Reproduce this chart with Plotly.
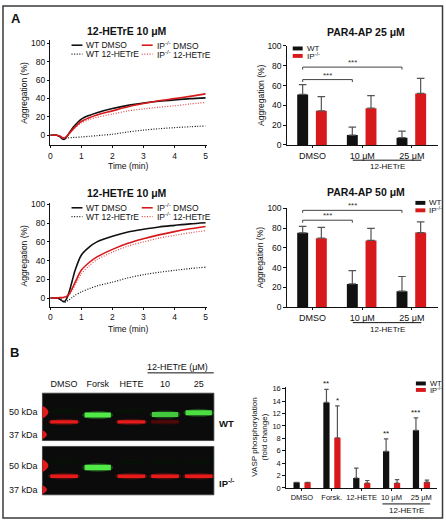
import plotly.graph_objects as go

W, H = 446, 526
def px(x): return x / W
def py(y): return 1 - y / H

# ---------------- data ----------------
time_min = [0, 0.2, 0.3, 0.4, 0.45, 0.5, 0.6, 0.7, 0.8, 1.0, 1.25, 1.5, 2.0, 2.5, 3.0, 3.5, 4.0, 4.5, 5.0]

agg_top_wt_dmso  = [0, 0, -1.5, -4.3, -4.5, -3.0, 2.0, 7.0, 11.0, 17.5, 21.5, 24.5, 29.0, 32.5, 35.0, 37.0, 38.5, 39.8, 40.7]
agg_top_ip_dmso  = [0, 0, -1.0, -3.0, -3.0, -2.0, 1.5, 5.5, 9.0, 15.0, 19.0, 22.0, 26.5, 31.0, 34.5, 37.5, 39.8, 42.3, 45.0]
agg_top_wt_hetre = [0, 0, -1.5, -2.5, -3.0, -3.0, -2.8, -2.6, -2.4, -2.0, -1.2, -0.5, 1.0, 3.5, 5.5, 7.0, 8.2, 9.2, 10.0]
agg_top_ip_hetre = [0, 0, -1.0, -2.5, -2.5, -2.0, 1.0, 4.5, 8.0, 13.5, 17.0, 19.5, 23.0, 26.5, 28.6, 30.5, 32.0, 34.0, 35.7]

agg_bot_wt_dmso  = [0, 0, -1.0, -3.5, -4.0, -2.0, 6.0, 18.0, 30.0, 46.0, 54.5, 60.0, 66.0, 70.5, 73.5, 76.0, 77.7, 79.3, 80.5]
agg_bot_ip_dmso  = [0, 0, 0.5, 0.5, 1.0, 1.5, 4.0, 10.0, 17.0, 30.0, 38.0, 44.0, 52.0, 58.5, 63.4, 67.5, 71.0, 74.0, 76.5]
agg_bot_wt_hetre = [0, 0, -1.0, -3.5, -4.5, -4.0, -2.0, 0.5, 3.0, 6.6, 10.0, 13.0, 17.0, 21.5, 25.0, 27.5, 29.6, 31.5, 33.0]
agg_bot_ip_hetre = [0, 0, 0, 0, 0.5, 1.0, 3.0, 8.0, 14.0, 26.0, 34.5, 41.0, 49.0, 55.5, 60.0, 64.0, 67.0, 69.8, 72.0]

line_titles = ["12-HETrE 10 μM", "12-HETrE 10 μM"]
line_legend = ["WT DMSO", "IP<sup>-/-</sup> DMSO", "WT 12-HETrE", "IP<sup>-/-</sup> 12-HETrE"]

bar_groups = ["DMSO", "10 μM", "25 μM"]
par4_25_wt = [51, 10, 7.4]
par4_25_wt_err = [10, 8, 6.6]
par4_25_ip = [34.5, 37.2, 52]
par4_25_ip_err = [14.3, 12.6, 15.3]
par4_50_wt = [75.2, 23.5, 16.2]
par4_50_wt_err = [6.5, 13.5, 14.8]
par4_50_ip = [69.8, 67.5, 75.5]
par4_50_ip_err = [10.9, 12.2, 10.9]
bar_titles = ["PAR4-AP 25 μM", "PAR4-AP 50 μM"]
sig_pairs = [(0, 1, "***"), (0, 2, "***")]
sig_heights_25 = [66, 78.6]
sig_heights_50 = [88, 98]

vasp_groups = ["DMSO", "Forsk.", "12-HETE", "10 μM", "25 μM"]
vasp_wt = [0.9, 13.8, 1.6, 5.9, 9.3]
vasp_wt_err = [0, 2.1, 1.6, 2.0, 2.0]
vasp_ip = [0.9, 8.1, 0.8, 0.8, 0.95]
vasp_ip_err = [0, 5.15, 0.4, 0.55, 0.32]
vasp_wt_sig = ["", "**", "", "**", "***"]
vasp_ip_sig = ["", "*", "", "", ""]

blot_lanes = ["DMSO", "Forsk", "HETE", "10", "25"]
wt_green = [0.13, 1.0, 0.13, 0.85, 0.95]
wt_red = [1.0, 0.0, 1.0, 0.35, 0.0]
ip_green = [0.12, 1.0, 0.12, 0.12, 0.12]
ip_red = [1.0, 0.0, 1.0, 1.0, 1.0]
ladder_labels = ["50 kDa", "37 kDa"]
genotypes = ["WT", "IP<sup>-/-</sup>"]

# ---------------- style ----------------
FONT = "Liberation Sans, Arial, Helvetica, sans-serif"
NARROW = "Liberation Sans Narrow, Arial Narrow, Liberation Sans, sans-serif"
BLACK = "#111111"
RED = "#d7191c"
DOTRED = "#e0474a"
ERR = "#555555"
DOTS = "1px,1.6px"

fig = go.Figure()
shapes = []
ann = []

def text(x, y, s, size=9, xanchor="center", yanchor="middle", font=FONT, color=BLACK,
         xref="paper", yref="paper", angle=0, yshift=0):
    ann.append(dict(x=x, y=y, text=s, xref=xref, yref=yref, showarrow=False,
                    xanchor=xanchor, yanchor=yanchor, textangle=angle, yshift=yshift,
                    font=dict(family=font, size=size, color=color)))

# ---------------- line panels ----------------
line_sets = [
    ("x", "y", [agg_top_wt_hetre, agg_top_ip_hetre, agg_top_wt_dmso, agg_top_ip_dmso]),
    ("x3", "y3", [agg_bot_wt_hetre, agg_bot_ip_hetre, agg_bot_wt_dmso, agg_bot_ip_dmso]),
]
styles = [(BLACK, DOTS, 1.2), (DOTRED, DOTS, 1.2), (BLACK, "solid", 1.6), (RED, "solid", 1.6)]
for xa, ya, series in line_sets:
    for vals, (c, d, w) in zip(series, styles):
        fig.add_trace(go.Scatter(x=time_min, y=vals, mode="lines", xaxis=xa, yaxis=ya,
                                 line=dict(color=c, dash=d, width=w, shape="spline", smoothing=0.8),
                                 showlegend=False, hoverinfo="skip"))

# ---------------- bar panels ----------------
WT_OFF, IP_OFF, BW = -0.31, 0.066, 0.22
def bars(xa, ya, wt, wte, ip, ipe, off_wt, off_ip, bw, cap):
    n = len(wt)
    xs = list(range(n))
    fig.add_trace(go.Bar(x=xs, y=wt, width=bw, offset=off_wt, xaxis=xa, yaxis=ya,
                         marker=dict(color=BLACK, line=dict(width=0)), showlegend=False, hoverinfo="skip",
                         error_y=dict(type="data", array=wte, arrayminus=[0] * n, symmetric=False,
                                      color=ERR, thickness=1.2, width=cap, visible=True)))
    fig.add_trace(go.Bar(x=xs, y=ip, width=bw, offset=off_ip, xaxis=xa, yaxis=ya,
                         marker=dict(color=RED, line=dict(width=0)), showlegend=False, hoverinfo="skip",
                         error_y=dict(type="data", array=ipe, arrayminus=[0] * n, symmetric=False,
                                      color=ERR, thickness=1.2, width=cap, visible=True)))

bars("x2", "y2", par4_25_wt, par4_25_wt_err, par4_25_ip, par4_25_ip_err, WT_OFF, IP_OFF, BW, 3.8)
bars("x4", "y4", par4_50_wt, par4_50_wt_err, par4_50_ip, par4_50_ip_err, WT_OFF, IP_OFF, BW, 3.8)
V_WT_OFF, V_IP_OFF, VBW = -0.282, 0.085, 0.21
bars("x5", "y5", vasp_wt, vasp_wt_err, vasp_ip, vasp_ip_err, V_WT_OFF, V_IP_OFF, VBW, 2.2)

# significance brackets
wt_c = WT_OFF + BW / 2
for xa, ya, heights in [("x2", "y2", sig_heights_25), ("x4", "y4", sig_heights_50)]:
    for (a, b, s), h in zip(sig_pairs, heights):
        x0, x1 = a + wt_c, b + wt_c
        lo = h - 2.5
        shapes.append(dict(type="path", xref=xa, yref=ya,
                           path=f"M {x0},{lo} L {x0},{h} L {x1},{h} L {x1},{lo}",
                           line=dict(color="#444444", width=1)))
        text((x0 + x1) / 2, h, s, size=8, xref=xa, yref=ya, yanchor="bottom", yshift=-2, color="#333333")

# vasp stars
vwt_c = V_WT_OFF + VBW / 2
vip_c = V_IP_OFF + VBW / 2
for i, s in enumerate(vasp_wt_sig):
    if s:
        text(i + vwt_c, vasp_wt[i] + vasp_wt_err[i], s, size=8, xref="x5", yref="y5", yanchor="bottom", yshift=-1)
for i, s in enumerate(vasp_ip_sig):
    if s:
        text(i + vip_c, vasp_ip[i] + vasp_ip_err[i], s, size=8, xref="x5", yref="y5", yanchor="bottom", yshift=-1)

# ---------------- axes ----------------
def ax_common(size=8.5, tl=2.5):
    return dict(showline=True, linecolor=BLACK, linewidth=1, ticks="outside", ticklen=tl,
                tickwidth=1, tickcolor=BLACK, showgrid=False, zeroline=False,
                tickfont=dict(family=FONT, size=size, color=BLACK), fixedrange=True)

layout_axes = {}
layout_axes["xaxis"] = dict(ax_common(), domain=[px(48.7), px(206.5)], range=[0, 5.05], anchor="y", dtick=1, tick0=0)
layout_axes["yaxis"] = dict(ax_common(), domain=[py(142.7), py(36)], range=[-10.7, 103.4], anchor="x", dtick=20, tick0=0)
layout_axes["xaxis3"] = dict(ax_common(), domain=[px(48.7), px(206.5)], range=[0, 5.05], anchor="y3", dtick=1, tick0=0)
layout_axes["yaxis3"] = dict(ax_common(), domain=[py(307.5), py(202)], range=[-9.2, 101.4], anchor="x3", dtick=20, tick0=0)
layout_axes["xaxis2"] = dict(ax_common(9, 2), domain=[px(286.7), px(439)], range=[-0.52, 2.526], anchor="y2",
                             tickvals=[0, 1, 2], ticktext=bar_groups)
layout_axes["yaxis2"] = dict(ax_common(), domain=[py(142.7), py(41.5)], range=[0, 100.2], anchor="x2", dtick=20)
layout_axes["xaxis4"] = dict(ax_common(9, 2), domain=[px(286.7), px(439)], range=[-0.52, 2.526], anchor="y4",
                             tickvals=[0, 1, 2], ticktext=bar_groups)
layout_axes["yaxis4"] = dict(ax_common(), domain=[py(308), py(206.5)], range=[0, 100.8], anchor="x4", dtick=20)
layout_axes["xaxis5"] = dict(ax_common(7.5, 2), domain=[px(285.7), px(438.3)], range=[-0.54, 4.54], anchor="y5",
                             tickvals=list(range(5)), ticktext=vasp_groups)
layout_axes["yaxis5"] = dict(ax_common(7.5), domain=[py(492.3), py(389.3)], range=[0, 16.3], anchor="x5", dtick=2)
layout_axes["xaxis6"] = dict(domain=[px(40.7), px(213.3)], range=[-0.643, 4.45], anchor="y6", side="top",
                             showline=False, showgrid=False, zeroline=False, ticks="outside", ticklen=2,
                             tickcolor="rgba(0,0,0,0)", tickvals=list(range(5)), ticktext=blot_lanes,
                             tickfont=dict(family=FONT, size=9, color=BLACK), fixedrange=True)
layout_axes["yaxis6"] = dict(domain=[py(499.3), py(395.7)], range=[0, 1], anchor="x6", visible=False, fixedrange=True)

# ---------------- titles / axis labels ----------------
text(px(126), py(26), "<b>" + line_titles[0] + "</b>", size=10.5)
text(px(126), py(192), "<b>" + line_titles[1] + "</b>", size=10.5)
text(px(366.7), py(27.7), "<b>" + bar_titles[0] + "</b>", size=10.5)
text(px(366.7), py(190.7), "<b>" + bar_titles[1] + "</b>", size=10.5)
text(px(22.5), py(89), "Aggregation (%)", size=8.5, font=NARROW, angle=-90)
text(px(22.5), py(255), "Aggregation (%)", size=8.5, font=NARROW, angle=-90)
text(px(261.5), py(92), "Aggregation (%)", size=8.5, font=NARROW, angle=-90)
text(px(260), py(257), "Aggregation (%)", size=8.5, font=NARROW, angle=-90)
text(px(259), py(440.8), "VASP phosphorylation<br>(fold change)", size=8, font=NARROW, angle=-90)
text(px(127), py(164), "Time (min)", size=8.5, font=NARROW)
text(px(127), py(330), "Time (min)", size=8.5, font=NARROW)

# sub-group labels under bar charts
for xa, yline, ylab, x0, x1, xm in [("x2", 158.2, 165, 0.81, 2.19, 1.5),
                                    ("x4", 323.8, 330.5, 0.81, 2.19, 1.5),
                                    ("x5", 508.6, 514.8, 2.7, 4.3, 3.5)]:
    shapes.append(dict(type="line", xref=xa, yref="paper", x0=x0, x1=x1, y0=py(yline), y1=py(yline),
                       line=dict(color=BLACK, width=1)))
    text(xm, py(ylab), "12-HETrE", size=8, font=NARROW, xref=xa)

# ---------------- manual legends ----------------
line_leg_pos = [(70, 41), (140.7, 41), (70, 50), (140.7, 50)]
leg_styles = [(BLACK, "solid", 1.6), (RED, "solid", 1.6), (BLACK, DOTS, 1.2), (DOTRED, DOTS, 1.2)]
for yoff in (0, 165.7):
    for (lx, ly), lab, (c, d, w) in zip(line_leg_pos, line_legend, leg_styles):
        shapes.append(dict(type="line", xref="paper", yref="paper", x0=px(lx), x1=px(lx + 11),
                           y0=py(ly + yoff), y1=py(ly + yoff), line=dict(color=c, dash=d, width=w)))
        text(px(lx + 13), py(ly + yoff), lab, size=8.5, xanchor="left")

for (bx, by, size) in [(292.7, 44.3, 8), (416.2, 201.7, 8), (416.7, 385.8, 7.5)]:
    for k, (c, lab) in enumerate(zip([BLACK, RED], genotypes)):
        yy = by + k * (7.6 if size == 8 else 6.6)
        shapes.append(dict(type="rect", xref="paper", yref="paper", x0=px(bx), x1=px(bx + 10),
                           y0=py(yy + 2), y1=py(yy - 2), fillcolor=c, line=dict(width=0)))
        text(px(bx + 12), py(yy), lab, size=size, xanchor="left")

# ---------------- western blot ----------------
def rgb(base, k):
    return "rgb(%d,%d,%d)" % tuple(int(round(v * k)) for v in base)

GREEN = (80, 235, 70)
REDB = (232, 26, 26)
blots = [(395.7, 444.0, wt_green, wt_red, [414, 418, 414, 417.5, 415.7], 425, 5, 3.2, [415, 438]),
         (450.0, 499.3, ip_green, ip_red, [466, 471.5, 466, 466, 466], 480.3, 5.5, 3.6, [469.5, 494])]
for top, bot, greens, reds, gy, ry, gth, rth, ladders in blots:
    shapes.append(dict(type="rect", xref="paper", yref="paper", x0=px(40.7), x1=px(213.3),
                       y0=py(bot), y1=py(top), fillcolor="#0b0b0b", line=dict(color="#3a3a3a", width=0.8)))
    for lane, (gi, ri) in enumerate(zip(greens, reds)):
        for inten, yc, th, base, hw in [(gi, gy[lane], gth, GREEN, 0.39), (ri, ry, rth, REDB, 0.41)]:
            if inten <= 0:
                continue
            faint = inten < 0.2
            thick = 2.5 if faint else th
            shapes.append(dict(type="circle", xref="x6", yref="paper", x0=lane - hw - 0.07, x1=lane + hw + 0.07,
                               y0=py(yc + thick / 2 + 1.6), y1=py(yc - thick / 2 - 1.6),
                               fillcolor=rgb(base, inten), opacity=0.25, line=dict(width=0)))
            shapes.append(dict(type="rect", xref="x6", yref="paper", x0=lane - hw, x1=lane + hw,
                               y0=py(yc + thick / 2), y1=py(yc - thick / 2),
                               fillcolor=rgb(base, inten * (0.55 if faint else 1)), line=dict(width=0)))
    for lab, yl, (h, w) in zip(ladder_labels, ladders, [(13, 12), (9, 9)]):
        x0 = px(40.7)
        shapes.append(dict(type="path", xref="paper", yref="paper",
                           path=f"M {x0},{py(yl - h / 2)} Q {px(40.7 + w)},{py(yl)} {x0},{py(yl + h / 2)} Z",
                           fillcolor="#e41a1a", line=dict(width=0)))
        text(px(38.5), py(yl), lab, size=9, xanchor="right")

text(px(216.5), py(427), "<b>" + genotypes[0] + "</b>", size=9.5, xanchor="left")
text(px(216.5), py(487), "<b>" + genotypes[1] + "</b>", size=9.5, xanchor="left")
shapes.append(dict(type="line", xref="x6", yref="paper", x0=2.48, x1=4.45, y0=py(375), y1=py(375),
                   line=dict(color=BLACK, width=1)))
text(3.37, py(369.3), "12-HETrE (μM)", size=9, xref="x6")

# panel letters and frame
text(px(7), py(14), "<b>A</b>", size=13, xanchor="left")
text(px(6.5), py(354), "<b>B</b>", size=13, xanchor="left")
shapes.append(dict(type="rect", xref="paper", yref="paper", x0=px(1), x1=px(443.5), y0=py(523), y1=py(1),
                   line=dict(color="#3a3a3a", width=1.5), layer="above"))

fig.update_layout(width=W, height=H, margin=dict(l=0, r=0, t=0, b=0),
                  paper_bgcolor="white", plot_bgcolor="rgba(0,0,0,0)", barmode="overlay",
                  showlegend=False, hovermode=False, shapes=shapes, annotations=ann,
                  font=dict(family=FONT, color=BLACK), **layout_axes)

fig.write_html("out.html", config={"displayModeBar": False},
               post_script="document.body.style.margin='0';document.body.style.overflow='hidden';")
